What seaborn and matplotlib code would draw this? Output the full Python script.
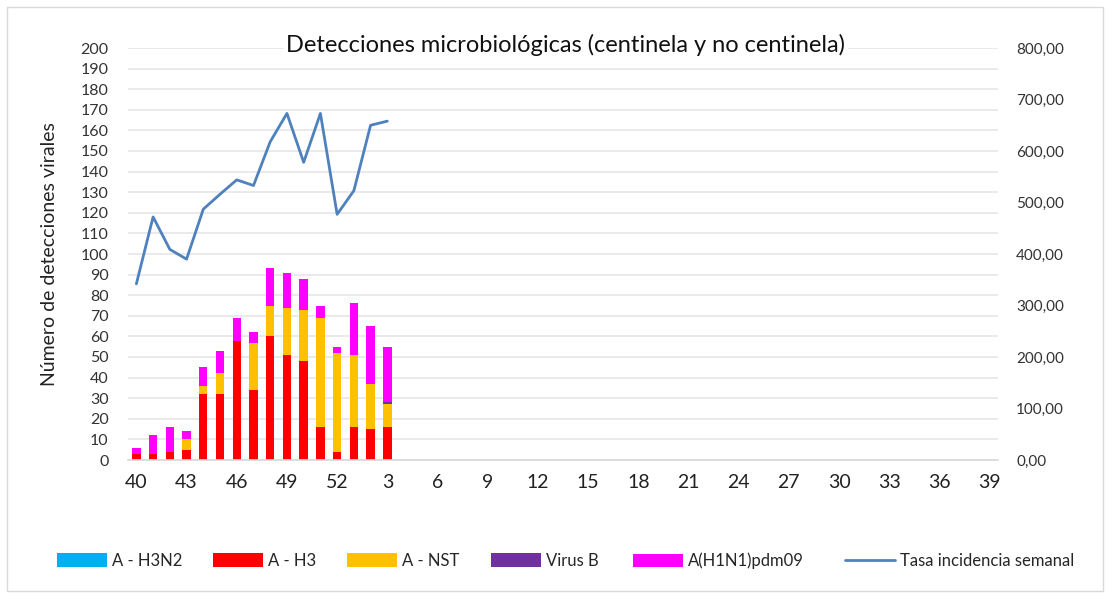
import matplotlib
matplotlib.use("Agg")
import matplotlib.pyplot as plt
import seaborn as sns
import numpy as np
import pandas as pd
from matplotlib.patches import Patch, Rectangle
from matplotlib.lines import Line2D

# ---- data ----
weeks = list(range(40, 53)) + list(range(1, 40))
week_labels = [str(w) for w in weeks]
data_weeks = list(range(40, 53)) + [1, 2, 3]
h3n2 = [0, 0, 0, 0, 0, 0, 0, 0, 0, 0, 0, 0, 0, 0, 0, 0]
h3 = [3, 3, 4, 5, 32, 32, 58, 34, 60, 51, 48, 16, 4, 16, 15, 16]
nst = [0, 0, 0, 5, 4, 10, 0, 23, 15, 23, 25, 53, 48, 35, 22, 11]
virus_b = [0, 0, 0, 0, 0, 0, 0, 0, 0, 0, 0, 0, 0, 0, 0, 1]
h1n1 = [3, 9, 12, 4, 9, 11, 11, 5, 18, 17, 15, 6, 3, 25, 28, 27]
tasa = [342, 472, 409, 390, 487, 516, 544, 533, 618, 673, 578, 673, 477, 523, 650, 658]

series_names = ["A - H3N2", "A - H3", "A - NST", "Virus B", "A(H1N1)pdm09"]
series_colors = ["#00B0F0", "#FF0000", "#FFC000", "#7030A0", "#FF00FF"]
line_name = "Tasa incidencia semanal"
line_color = "#4F81BD"

# ---- build frame over all 52 weeks ----
n = len(weeks)
df = pd.DataFrame({"week": week_labels, "pos": np.arange(n)})
vals = {name: np.zeros(n) for name in series_names}
for i, w in enumerate(data_weeks):
    p = weeks.index(w)
    vals["A - H3N2"][p] = h3n2[i]
    vals["A - H3"][p] = h3[i]
    vals["A - NST"][p] = nst[i]
    vals["Virus B"][p] = virus_b[i]
    vals["A(H1N1)pdm09"][p] = h1n1[i]
for name in series_names:
    df[name] = vals[name]

sns.set_style("white")
plt.rcParams["font.family"] = ["Lato", "DejaVu Sans"]

fig = plt.figure(figsize=(11.2, 5.99), dpi=100)
ax = fig.add_axes([128 / 1120, 1 - 460 / 599, 870 / 1120, 412 / 599])

# stacked bars via overlapping cumulative sums (top layer first)
cum = np.zeros(n)
cums = []
for name in series_names:
    cum = cum + df[name].values
    cums.append(cum.copy())
for name, color, c in reversed(list(zip(series_names, series_colors, cums))):
    sns.barplot(x=df["week"], y=c, order=week_labels, color=color,
                width=0.5, ax=ax, saturation=1, linewidth=0, errorbar=None)

ax.set_ylim(0, 200)
ax.set_xlim(-0.5, n - 0.5)
ax.set_yticks(np.arange(0, 201, 10))
ax.yaxis.grid(True, color="#E6E6E6", linewidth=1.2)
ax.set_axisbelow(True)
ax.set_xticks(np.arange(0, n, 3))
ax.set_xticklabels([week_labels[i] for i in range(0, n, 3)], fontsize=14, color="#222222")
ax.set_xticks(np.arange(-0.5, n, 1), minor=True)
ax.tick_params(axis="x", which="major", length=0, pad=10)
ax.tick_params(axis="x", which="minor", length=5, color="#D0D0D0", width=1)
ax.tick_params(axis="y", length=0, labelsize=11.5, colors="#333333", pad=14)
for s in ["top", "right", "left"]:
    ax.spines[s].set_visible(False)
ax.spines["bottom"].set_color("#D9D9D9")
ax.spines["bottom"].set_linewidth(1.2)
ax.set_xlabel("")
ax.set_ylabel("Número de detecciones virales", fontsize=14, color="#222222", labelpad=16)

ax2 = ax.twinx()
line_pos = [weeks.index(w) for w in data_weeks]
sns.lineplot(x=line_pos, y=tasa, color=line_color, linewidth=2, ax=ax2)
ax2.set_ylim(0, 800)
ax2.set_yticks(np.arange(0, 801, 100))
ax2.set_yticklabels([f"{v:,.2f}".replace(".", ",") for v in np.arange(0, 801, 100)])
ax2.tick_params(axis="y", length=0, labelsize=11, colors="#333333", pad=13)
for s in ["top", "right", "left", "bottom"]:
    ax2.spines[s].set_visible(False)
ax2.set_xlim(-0.5, n - 0.5)

fig.text(566 / 1120, 1 - 45 / 599, "Detecciones microbiológicas (centinela y no centinela)",
         ha="center", va="center", fontsize=17, color="#111111",
         bbox=dict(facecolor="white", edgecolor="none", pad=2))

# legend entries placed individually like the reference
handles = [Patch(facecolor=c, edgecolor="none") for c in series_colors]
handles.append(Line2D([0], [0], color=line_color, linewidth=2))
labels = series_names + [line_name]
legend_x = [57, 213, 347, 491, 633, 845]
for h, lab, xp in zip(handles, labels, legend_x):
    leg = fig.legend([h], [lab], loc="center left", bbox_to_anchor=(xp / 1120, 1 - 561 / 599),
                     frameon=False, fontsize=12, handlelength=3.0, handleheight=0.9,
                     handletextpad=0.3, borderpad=0, borderaxespad=0)

fig.patches.append(Rectangle((7 / 1120, 8 / 599), 1096 / 1120, 584 / 599,
                             transform=fig.transFigure, fill=False,
                             edgecolor="#D9D9D9", linewidth=1))

fig.savefig("out.png", dpi=100)
